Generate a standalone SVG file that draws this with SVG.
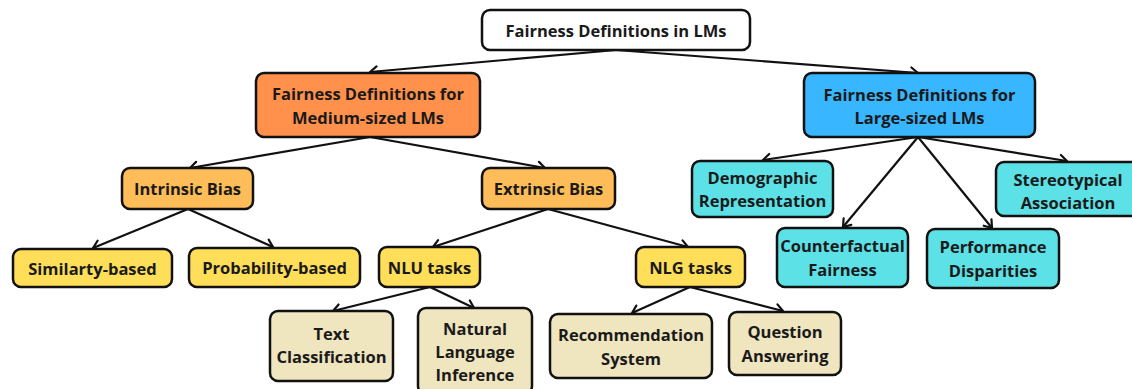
<svg xmlns="http://www.w3.org/2000/svg" width="1132" height="389" viewBox="0 0 1132 389">
<defs>
<marker id="ah" markerUnits="userSpaceOnUse" viewBox="-10 -7 12 14" refX="0" refY="0" markerWidth="12" markerHeight="14" orient="auto">
<path d="M-7,-5 L0,0 L-7,5" fill="none" stroke="#111" stroke-width="2.2" stroke-linecap="round" stroke-linejoin="round"/>
</marker>
</defs>
<style>
.n{stroke:#111;stroke-width:2.5}
.t{font-family:"Open Sans","Noto Sans","DejaVu Sans",sans-serif;font-weight:700;font-size:16.5px;fill:#1a1a1a;text-anchor:middle;dominant-baseline:central}
.c line{stroke:#111;stroke-width:2.2;marker-end:url(#ah)}
.root{fill:#fff}.med{fill:#FF914D}.lrg{fill:#38B6FF}.bias{fill:#FFBD59}.yel{fill:#FFDE59}.bei{fill:#EFE5BF}.cyn{fill:#5CE1E6}
</style>
<rect width="1132" height="389" fill="#fff"/>
<g id="connectors" class="c">
<line x1="616" y1="50" x2="370" y2="72"/>
<line x1="616" y1="50" x2="918" y2="73"/>
<line x1="370" y1="137" x2="190" y2="168"/>
<line x1="370" y1="137" x2="545" y2="168"/>
<line x1="188" y1="209" x2="93" y2="248"/>
<line x1="188" y1="209" x2="273" y2="247"/>
<line x1="548" y1="209" x2="433" y2="247"/>
<line x1="548" y1="209" x2="688" y2="247"/>
<line x1="430" y1="287" x2="333" y2="311"/>
<line x1="430" y1="287" x2="474" y2="308"/>
<line x1="690" y1="287" x2="632" y2="313"/>
<line x1="690" y1="287" x2="783" y2="311"/>
<line x1="918" y1="137" x2="763" y2="160"/>
<line x1="918" y1="137" x2="843" y2="227"/>
<line x1="918" y1="137" x2="992" y2="228"/>
<line x1="918" y1="137" x2="1067" y2="161"/>
</g>
<g id="root"><rect class="n root" x="482" y="10" width="268" height="40" rx="8"/><text class="t" x="616" y="30">Fairness Definitions in LMs</text></g>
<g id="medium"><rect class="n med" x="256" y="73" width="224" height="64" rx="8"/><text class="t" x="368" y="93">Fairness Definitions for</text><text class="t" x="368" y="117">Medium-sized LMs</text></g>
<g id="large"><rect class="n lrg" x="804" y="73" width="231" height="64" rx="8"/><text class="t" x="919.5" y="94">Fairness Definitions for</text><text class="t" x="919.5" y="117">Large-sized LMs</text></g>
<g id="intrinsic"><rect class="n bias" x="122" y="168" width="131" height="41" rx="8"/><text class="t" x="187.5" y="188">Intrinsic Bias</text></g>
<g id="extrinsic"><rect class="n bias" x="482" y="168" width="133" height="41" rx="8"/><text class="t" x="548.5" y="188">Extrinsic Bias</text></g>
<g id="similarity"><rect class="n yel" x="13" y="249" width="159" height="38" rx="8"/><text class="t" x="92.5" y="268">Similarty-based</text></g>
<g id="probability"><rect class="n yel" x="189" y="248" width="171" height="39" rx="8"/><text class="t" x="274.5" y="267">Probability-based</text></g>
<g id="nlu"><rect class="n yel" x="379" y="247" width="101" height="40" rx="8"/><text class="t" x="429.5" y="267">NLU tasks</text></g>
<g id="nlg"><rect class="n yel" x="636" y="247" width="109" height="40" rx="8"/><text class="t" x="690.5" y="267">NLG tasks</text></g>
<g id="text-classification"><rect class="n bei" x="270" y="311" width="123" height="70" rx="8"/><text class="t" x="331.5" y="333">Text</text><text class="t" x="331.5" y="356">Classification</text></g>
<g id="nli"><rect class="n bei" x="418" y="308" width="114" height="86" rx="8"/><text class="t" x="475" y="328">Natural</text><text class="t" x="475" y="351">Language</text><text class="t" x="475" y="374">Inference</text></g>
<g id="recommendation"><rect class="n bei" x="550" y="314" width="162" height="64" rx="8"/><text class="t" x="631" y="334">Recommendation</text><text class="t" x="631" y="358">System</text></g>
<g id="qa"><rect class="n bei" x="729" y="312" width="112" height="63" rx="8"/><text class="t" x="785" y="331">Question</text><text class="t" x="785" y="355">Answering</text></g>
<g id="demographic"><rect class="n cyn" x="692" y="161" width="141" height="56" rx="8"/><text class="t" x="762.5" y="177">Demographic</text><text class="t" x="762.5" y="200">Representation</text></g>
<g id="counterfactual"><rect class="n cyn" x="777" y="228" width="131" height="59" rx="8"/><text class="t" x="842.5" y="245">Counterfactual</text><text class="t" x="842.5" y="269">Fairness</text></g>
<g id="performance"><rect class="n cyn" x="927" y="229" width="132" height="59" rx="8"/><text class="t" x="993" y="246">Performance</text><text class="t" x="993" y="270">Disparities</text></g>
<g id="stereotypical"><rect class="n cyn" x="996" y="162" width="144" height="54" rx="8"/><text class="t" x="1068" y="179">Stereotypical</text><text class="t" x="1068" y="202">Association</text></g>
</svg>
